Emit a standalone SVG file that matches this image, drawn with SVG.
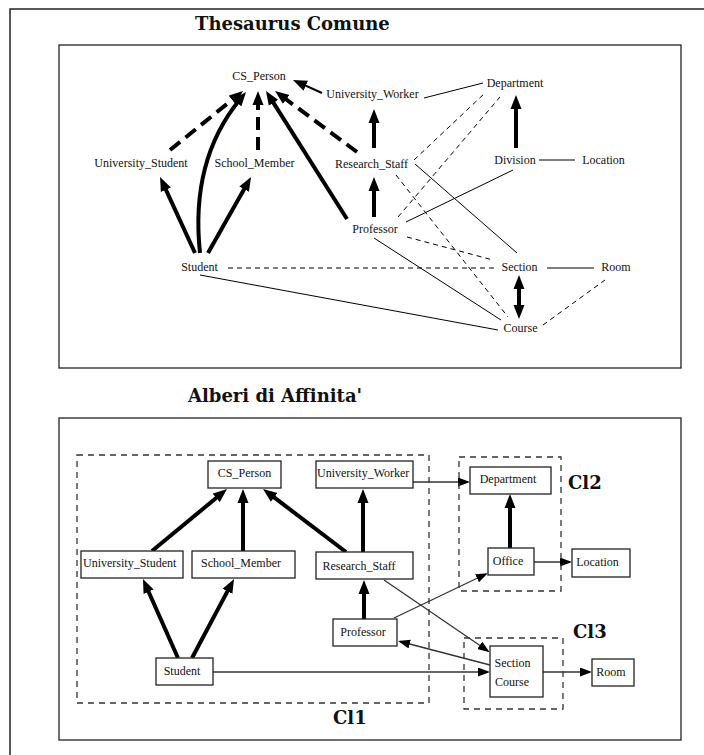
<svg xmlns="http://www.w3.org/2000/svg" width="704" height="755" viewBox="0 0 704 755">
  <style>
    .frame { fill: none; stroke: #222; stroke-width: 1.5; }
    .panel { fill: #fff; stroke: #222; stroke-width: 1.3; }
    .title { font-family: "DejaVu Serif", "Liberation Serif", serif; font-weight: bold; font-size: 18px; fill: #111; }
    .lbl { font-family: "Liberation Serif", "Times New Roman", serif; font-size: 12px; fill: #111; }
    .mid { text-anchor: middle; }
    .box { fill: #fff; stroke: #222; stroke-width: 1.3; }
    .cluster { fill: none; stroke: #333; stroke-width: 1.3; stroke-dasharray: 6 5; }
    .isa { fill: none; stroke: #000; stroke-width: 4; marker-end: url(#head-bold); }
    .isa-dash { fill: none; stroke: #000; stroke-width: 4; stroke-dasharray: 13 7; marker-end: url(#head-bold); }
    .rel { fill: none; stroke: #000; stroke-width: 1; }
    .rel-dash { fill: none; stroke: #000; stroke-width: 1; stroke-dasharray: 5 4; }
    .link { fill: none; stroke: #333; stroke-width: 1.3; marker-end: url(#head-thin); }
  </style>
  <defs>
    <marker id="head-bold" markerUnits="userSpaceOnUse" markerWidth="16" markerHeight="12" refX="5" refY="6" orient="auto-start-reverse">
      <path d="M0,0.5 L14,6 L0,11.5 z" fill="#000"/>
    </marker>
    <marker id="head-thin" markerUnits="userSpaceOnUse" markerWidth="14" markerHeight="10" refX="10" refY="4.5" orient="auto">
      <path d="M0,0 L12,4.5 L0,9 z" fill="#000"/>
    </marker>
  </defs>

  <rect width="704" height="755" fill="#fff"/>
  <!-- page frame -->
  <path class="frame" d="M704,9 H10 V755"/>

  <!-- panel titles and panels -->
  <text class="title" x="195" y="30">Thesaurus Comune</text>
  <rect class="panel" x="59" y="45" width="622" height="323"/>
  <text class="title" x="188" y="402">Alberi di Affinita'</text>
  <rect class="panel" x="59" y="418" width="622" height="322"/>

  <!-- connectors of both panels -->
  <g id="connectors">
    <!-- upper panel: generalisation arrows -->
    <path class="isa-dash" d="M170,150 L236,96.7"/>
    <path class="isa" d="M200,253 Q190,160 240.3,99"/>
    <path class="isa-dash" d="M258,150 L258,100"/>
    <path class="isa" d="M347,219 L270.8,98.6"/>
    <path class="isa-dash" d="M357,152 L282.2,96.4"/>
    <path class="isa" style="stroke-width:2" d="M322,93 L301.2,83.7"/>
    <path class="isa" d="M374,148 L374,118"/>
    <path class="isa" d="M374,217 L374,186"/>
    <path class="isa" d="M516,148 L516,104"/>
    <path class="isa" d="M195,253 L163.8,185.2"/>
    <path class="isa" d="M208,253 L246.6,184.8"/>
    <path class="isa" style="marker-start:url(#head-bold)" d="M519,284 L519,310"/>
    <!-- upper panel: relationships -->
    <line class="rel" x1="424" y1="98" x2="483" y2="83"/>
    <line class="rel-dash" x1="414" y1="160" x2="485" y2="93"/>
    <line class="rel-dash" x1="398" y1="217" x2="500" y2="97"/>
    <line class="rel" x1="415" y1="164" x2="517" y2="253"/>
    <line class="rel-dash" x1="396" y1="175" x2="508" y2="317"/>
    <line class="rel" x1="406" y1="222" x2="513" y2="170"/>
    <line class="rel" x1="539" y1="160" x2="575" y2="160"/>
    <line class="rel-dash" x1="228" y1="268" x2="498" y2="268"/>
    <line class="rel" x1="547" y1="268" x2="594" y2="268"/>
    <line class="rel" x1="200" y1="275" x2="498" y2="330"/>
    <line class="rel" x1="374" y1="238" x2="501" y2="320"/>
    <line class="rel-dash" x1="407" y1="237" x2="493" y2="260"/>
    <line class="rel-dash" x1="543" y1="325" x2="605" y2="280"/>

    <!-- lower panel: generalisation arrows -->
    <path class="isa" d="M152,551 L220.1,494.7"/>
    <path class="isa" d="M243,551 L243,498"/>
    <path class="isa" d="M346,552 L270.2,494.4"/>
    <path class="isa" d="M363,552 L363,498"/>
    <path class="isa" d="M364,619 L364,589"/>
    <path class="isa" d="M178,658 L146.6,587.2"/>
    <path class="isa" d="M192,658 L229.8,586.9"/>
    <path class="isa" d="M510,548 L510,503"/>
    <!-- lower panel: links between clusters -->
    <line class="link" x1="413" y1="482" x2="468" y2="482"/>
    <line class="link" x1="534" y1="562" x2="570" y2="562"/>
    <line class="link" x1="394" y1="618" x2="486" y2="574"/>
    <line class="link" x1="384" y1="580" x2="488" y2="651"/>
    <line class="link" x1="490" y1="665" x2="400" y2="641.5"/>
    <line class="link" x1="213" y1="672" x2="488" y2="672"/>
    <line class="link" x1="543" y1="672" x2="590" y2="672"/>
  </g>

  <!-- upper panel: common thesaurus terms -->
  <g id="t-cs-person"><text class="lbl mid" x="259" y="80">CS_Person</text></g>
  <g id="t-university-worker"><text class="lbl mid" x="372.5" y="98">University_Worker</text></g>
  <g id="t-department"><text class="lbl mid" x="515" y="87">Department</text></g>
  <g id="t-university-student"><text class="lbl mid" x="141" y="167">University_Student</text></g>
  <g id="t-school-member"><text class="lbl mid" x="254.5" y="167">School_Member</text></g>
  <g id="t-research-staff"><text class="lbl mid" x="371.5" y="168">Research_Staff</text></g>
  <g id="t-division"><text class="lbl mid" x="515" y="164">Division</text></g>
  <g id="t-location"><text class="lbl mid" x="603.5" y="164">Location</text></g>
  <g id="t-professor"><text class="lbl mid" x="375" y="233">Professor</text></g>
  <g id="t-student"><text class="lbl mid" x="199.5" y="271">Student</text></g>
  <g id="t-section"><text class="lbl mid" x="519.5" y="271">Section</text></g>
  <g id="t-room"><text class="lbl mid" x="616" y="271">Room</text></g>
  <g id="t-course"><text class="lbl mid" x="520.5" y="332">Course</text></g>

  <!-- lower panel: clusters -->
  <g id="cl1">
    <rect class="cluster" x="77" y="455" width="352" height="248"/>
    <text class="title" x="333" y="724">Cl1</text>
  </g>
  <g id="cl2">
    <rect class="cluster" x="459" y="457" width="102" height="134"/>
    <text class="title" x="568" y="489">Cl2</text>
  </g>
  <g id="cl3">
    <rect class="cluster" x="464" y="638" width="99" height="71"/>
    <text class="title" x="573" y="638">Cl3</text>
  </g>

  <!-- lower panel: classes -->
  <g id="a-cs-person"><rect class="box" x="208" y="461" width="73" height="27"/><text class="lbl mid" x="244.5" y="477">CS_Person</text></g>
  <g id="a-university-worker"><rect class="box" x="316" y="461" width="97" height="27"/><text class="lbl" x="317" y="477">University_Worker</text></g>
  <g id="a-university-student"><rect class="box" x="81" y="551" width="102" height="27"/><text class="lbl" x="83" y="567">University_Student</text></g>
  <g id="a-school-member"><rect class="box" x="192" y="551" width="103" height="27"/><text class="lbl mid" x="241" y="567">School_Member</text></g>
  <g id="a-research-staff"><rect class="box" x="316" y="552" width="97" height="27"/><text class="lbl mid" x="359" y="570">Research_Staff</text></g>
  <g id="a-professor"><rect class="box" x="333" y="619" width="64" height="27"/><text class="lbl mid" x="363" y="636">Professor</text></g>
  <g id="a-student"><rect class="box" x="156" y="658" width="57" height="27"/><text class="lbl mid" x="182" y="675">Student</text></g>
  <g id="a-department"><rect class="box" x="470" y="467" width="81" height="27"/><text class="lbl mid" x="508" y="483">Department</text></g>
  <g id="a-office"><rect class="box" x="488" y="548" width="46" height="27"/><text class="lbl mid" x="508" y="565">Office</text></g>
  <g id="a-location"><rect class="box" x="572" y="549" width="58" height="28"/><text class="lbl mid" x="597.5" y="566">Location</text></g>
  <g id="a-section-course"><rect class="box" x="490" y="646" width="53" height="51"/><text class="lbl mid" x="512.5" y="667">Section</text><text class="lbl mid" x="512" y="686">Course</text></g>
  <g id="a-room"><rect class="box" x="592" y="659" width="42" height="27"/><text class="lbl mid" x="611" y="676">Room</text></g>
</svg>
